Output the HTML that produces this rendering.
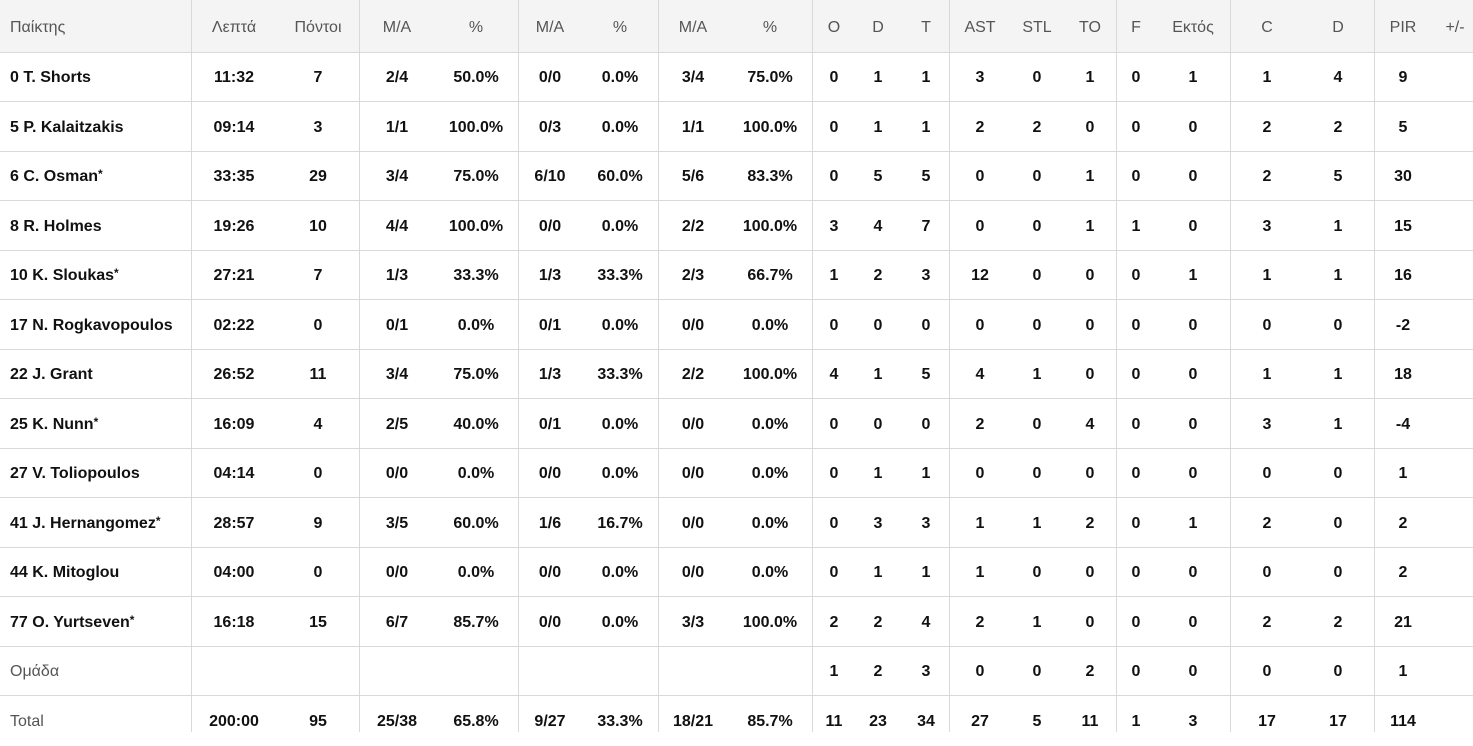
<!DOCTYPE html>
<html><head><meta charset="utf-8">
<style>
html,body{margin:0;padding:0;}
body{width:1473px;height:732px;overflow:hidden;background:#fff;position:relative;font-family:"Liberation Sans","DejaVu Sans",sans-serif;font-size:16px;}
.hdr{position:absolute;left:0;top:0;width:1473px;height:52px;background:#f4f4f4;}
.hl{position:absolute;left:0;width:1473px;height:1px;background:#d9d9d9;}
.vl{position:absolute;top:0;width:1px;height:732px;background:#d9d9d9;}
.r{position:absolute;left:0;width:1473px;white-space:nowrap;color:#111;font-weight:bold;}
.r span{position:absolute;top:0;width:90px;text-align:center;}
.r span.n{left:10px;width:auto;text-align:left;}
.r span.n b{font-weight:600;}
.r span.n i{font-style:normal;font-size:12px;position:relative;top:-3px;}
.h{color:#555;font-weight:normal;}
.g{color:#555;font-weight:normal !important;}
.c1{left:189px}.c2{left:273px}.c3{left:352px}.c4{left:431px}.c5{left:505px}
.c6{left:575px}.c7{left:648px}.c8{left:725px}.c9{left:789px}.c10{left:833px}
.c11{left:881px}.c12{left:935px}.c13{left:992px}.c14{left:1045px}.c15{left:1091px}
.c16{left:1148px}.c17{left:1222px}.c18{left:1293px}.c19{left:1358px}.c20{left:1410px}
</style></head><body>
<div class="hdr"></div>
<div class="hl" style="top:52px"></div>
<div class="hl" style="top:101px"></div>
<div class="hl" style="top:151px"></div>
<div class="hl" style="top:200px"></div>
<div class="hl" style="top:250px"></div>
<div class="hl" style="top:299px"></div>
<div class="hl" style="top:349px"></div>
<div class="hl" style="top:398px"></div>
<div class="hl" style="top:448px"></div>
<div class="hl" style="top:497px"></div>
<div class="hl" style="top:547px"></div>
<div class="hl" style="top:596px"></div>
<div class="hl" style="top:646px"></div>
<div class="hl" style="top:695px"></div>
<div class="vl" style="left:191px"></div>
<div class="vl" style="left:359px"></div>
<div class="vl" style="left:518px"></div>
<div class="vl" style="left:658px"></div>
<div class="vl" style="left:812px"></div>
<div class="vl" style="left:949px"></div>
<div class="vl" style="left:1116px"></div>
<div class="vl" style="left:1230px"></div>
<div class="vl" style="left:1374px"></div>

<div class="r h" style="top:2px;height:52px;line-height:52px;"><span class="n">Παίκτης</span><span class="c1">Λεπτά</span><span class="c2">Πόντοι</span><span class="c3">M/A</span><span class="c4">%</span><span class="c5">M/A</span><span class="c6">%</span><span class="c7">M/A</span><span class="c8">%</span><span class="c9">O</span><span class="c10">D</span><span class="c11">T</span><span class="c12">AST</span><span class="c13">STL</span><span class="c14">TO</span><span class="c15">F</span><span class="c16">Εκτός</span><span class="c17">C</span><span class="c18">D</span><span class="c19">PIR</span><span class="c20">+/-</span></div>

<div class="r" style="top:54px;height:48px;line-height:48px;"><span class="n"><b>0</b> T. Shorts</span><span class="c1">11:32</span><span class="c2">7</span><span class="c3">2/4</span><span class="c4">50.0%</span><span class="c5">0/0</span><span class="c6">0.0%</span><span class="c7">3/4</span><span class="c8">75.0%</span><span class="c9">0</span><span class="c10">1</span><span class="c11">1</span><span class="c12">3</span><span class="c13">0</span><span class="c14">1</span><span class="c15">0</span><span class="c16">1</span><span class="c17">1</span><span class="c18">4</span><span class="c19">9</span></div>

<div class="r" style="top:103px;height:49px;line-height:49px;"><span class="n"><b>5</b> P. Kalaitzakis</span><span class="c1">09:14</span><span class="c2">3</span><span class="c3">1/1</span><span class="c4">100.0%</span><span class="c5">0/3</span><span class="c6">0.0%</span><span class="c7">1/1</span><span class="c8">100.0%</span><span class="c9">0</span><span class="c10">1</span><span class="c11">1</span><span class="c12">2</span><span class="c13">2</span><span class="c14">0</span><span class="c15">0</span><span class="c16">0</span><span class="c17">2</span><span class="c18">2</span><span class="c19">5</span></div>

<div class="r" style="top:153px;height:48px;line-height:48px;"><span class="n"><b>6</b> C. Osman<i>*</i></span><span class="c1">33:35</span><span class="c2">29</span><span class="c3">3/4</span><span class="c4">75.0%</span><span class="c5">6/10</span><span class="c6">60.0%</span><span class="c7">5/6</span><span class="c8">83.3%</span><span class="c9">0</span><span class="c10">5</span><span class="c11">5</span><span class="c12">0</span><span class="c13">0</span><span class="c14">1</span><span class="c15">0</span><span class="c16">0</span><span class="c17">2</span><span class="c18">5</span><span class="c19">30</span></div>

<div class="r" style="top:202px;height:49px;line-height:49px;"><span class="n"><b>8</b> R. Holmes</span><span class="c1">19:26</span><span class="c2">10</span><span class="c3">4/4</span><span class="c4">100.0%</span><span class="c5">0/0</span><span class="c6">0.0%</span><span class="c7">2/2</span><span class="c8">100.0%</span><span class="c9">3</span><span class="c10">4</span><span class="c11">7</span><span class="c12">0</span><span class="c13">0</span><span class="c14">1</span><span class="c15">1</span><span class="c16">0</span><span class="c17">3</span><span class="c18">1</span><span class="c19">15</span></div>

<div class="r" style="top:252px;height:48px;line-height:48px;"><span class="n"><b>10</b> K. Sloukas<i>*</i></span><span class="c1">27:21</span><span class="c2">7</span><span class="c3">1/3</span><span class="c4">33.3%</span><span class="c5">1/3</span><span class="c6">33.3%</span><span class="c7">2/3</span><span class="c8">66.7%</span><span class="c9">1</span><span class="c10">2</span><span class="c11">3</span><span class="c12">12</span><span class="c13">0</span><span class="c14">0</span><span class="c15">0</span><span class="c16">1</span><span class="c17">1</span><span class="c18">1</span><span class="c19">16</span></div>

<div class="r" style="top:301px;height:49px;line-height:49px;"><span class="n"><b>17</b> N. Rogkavopoulos</span><span class="c1">02:22</span><span class="c2">0</span><span class="c3">0/1</span><span class="c4">0.0%</span><span class="c5">0/1</span><span class="c6">0.0%</span><span class="c7">0/0</span><span class="c8">0.0%</span><span class="c9">0</span><span class="c10">0</span><span class="c11">0</span><span class="c12">0</span><span class="c13">0</span><span class="c14">0</span><span class="c15">0</span><span class="c16">0</span><span class="c17">0</span><span class="c18">0</span><span class="c19">-2</span></div>

<div class="r" style="top:351px;height:48px;line-height:48px;"><span class="n"><b>22</b> J. Grant</span><span class="c1">26:52</span><span class="c2">11</span><span class="c3">3/4</span><span class="c4">75.0%</span><span class="c5">1/3</span><span class="c6">33.3%</span><span class="c7">2/2</span><span class="c8">100.0%</span><span class="c9">4</span><span class="c10">1</span><span class="c11">5</span><span class="c12">4</span><span class="c13">1</span><span class="c14">0</span><span class="c15">0</span><span class="c16">0</span><span class="c17">1</span><span class="c18">1</span><span class="c19">18</span></div>

<div class="r" style="top:400px;height:49px;line-height:49px;"><span class="n"><b>25</b> K. Nunn<i>*</i></span><span class="c1">16:09</span><span class="c2">4</span><span class="c3">2/5</span><span class="c4">40.0%</span><span class="c5">0/1</span><span class="c6">0.0%</span><span class="c7">0/0</span><span class="c8">0.0%</span><span class="c9">0</span><span class="c10">0</span><span class="c11">0</span><span class="c12">2</span><span class="c13">0</span><span class="c14">4</span><span class="c15">0</span><span class="c16">0</span><span class="c17">3</span><span class="c18">1</span><span class="c19">-4</span></div>

<div class="r" style="top:450px;height:48px;line-height:48px;"><span class="n"><b>27</b> V. Toliopoulos</span><span class="c1">04:14</span><span class="c2">0</span><span class="c3">0/0</span><span class="c4">0.0%</span><span class="c5">0/0</span><span class="c6">0.0%</span><span class="c7">0/0</span><span class="c8">0.0%</span><span class="c9">0</span><span class="c10">1</span><span class="c11">1</span><span class="c12">0</span><span class="c13">0</span><span class="c14">0</span><span class="c15">0</span><span class="c16">0</span><span class="c17">0</span><span class="c18">0</span><span class="c19">1</span></div>

<div class="r" style="top:499px;height:49px;line-height:49px;"><span class="n"><b>41</b> J. Hernangomez<i>*</i></span><span class="c1">28:57</span><span class="c2">9</span><span class="c3">3/5</span><span class="c4">60.0%</span><span class="c5">1/6</span><span class="c6">16.7%</span><span class="c7">0/0</span><span class="c8">0.0%</span><span class="c9">0</span><span class="c10">3</span><span class="c11">3</span><span class="c12">1</span><span class="c13">1</span><span class="c14">2</span><span class="c15">0</span><span class="c16">1</span><span class="c17">2</span><span class="c18">0</span><span class="c19">2</span></div>

<div class="r" style="top:549px;height:48px;line-height:48px;"><span class="n"><b>44</b> K. Mitoglou</span><span class="c1">04:00</span><span class="c2">0</span><span class="c3">0/0</span><span class="c4">0.0%</span><span class="c5">0/0</span><span class="c6">0.0%</span><span class="c7">0/0</span><span class="c8">0.0%</span><span class="c9">0</span><span class="c10">1</span><span class="c11">1</span><span class="c12">1</span><span class="c13">0</span><span class="c14">0</span><span class="c15">0</span><span class="c16">0</span><span class="c17">0</span><span class="c18">0</span><span class="c19">2</span></div>

<div class="r" style="top:598px;height:49px;line-height:49px;"><span class="n"><b>77</b> O. Yurtseven<i>*</i></span><span class="c1">16:18</span><span class="c2">15</span><span class="c3">6/7</span><span class="c4">85.7%</span><span class="c5">0/0</span><span class="c6">0.0%</span><span class="c7">3/3</span><span class="c8">100.0%</span><span class="c9">2</span><span class="c10">2</span><span class="c11">4</span><span class="c12">2</span><span class="c13">1</span><span class="c14">0</span><span class="c15">0</span><span class="c16">0</span><span class="c17">2</span><span class="c18">2</span><span class="c19">21</span></div>

<div class="r" style="top:648px;height:48px;line-height:48px;"><span class="n g">Ομάδα</span><span class="c9">1</span><span class="c10">2</span><span class="c11">3</span><span class="c12">0</span><span class="c13">0</span><span class="c14">2</span><span class="c15">0</span><span class="c16">0</span><span class="c17">0</span><span class="c18">0</span><span class="c19">1</span></div>

<div class="r" style="top:697px;height:49px;line-height:49px;"><span class="n g">Total</span><span class="c1">200:00</span><span class="c2">95</span><span class="c3">25/38</span><span class="c4">65.8%</span><span class="c5">9/27</span><span class="c6">33.3%</span><span class="c7">18/21</span><span class="c8">85.7%</span><span class="c9">11</span><span class="c10">23</span><span class="c11">34</span><span class="c12">27</span><span class="c13">5</span><span class="c14">11</span><span class="c15">1</span><span class="c16">3</span><span class="c17">17</span><span class="c18">17</span><span class="c19">114</span></div>
</body></html>
